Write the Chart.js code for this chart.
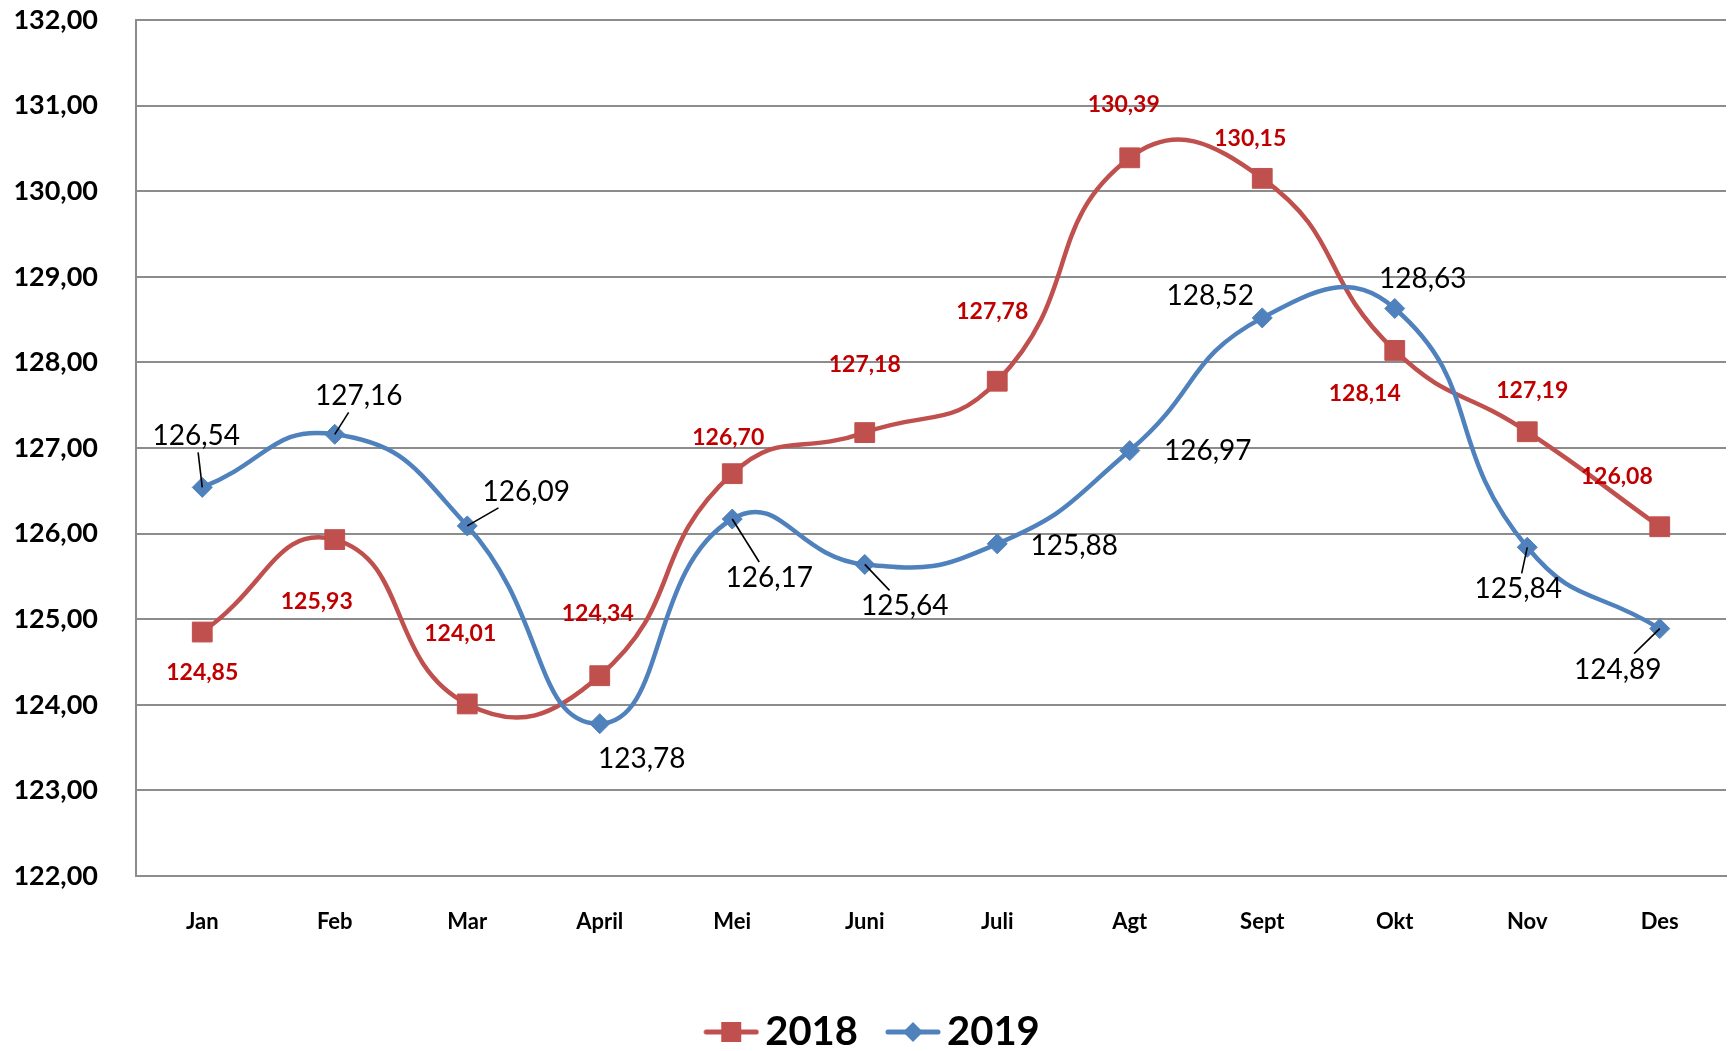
<!DOCTYPE html>
<html>
<head>
<meta charset="utf-8">
<script src="https://cdn.jsdelivr.net/npm/chart.js@4.4.0/dist/chart.umd.min.js"></script>
<style>
  html, body { margin: 0; padding: 0; background: #fff; overflow: hidden; }
  #wrap { width: 1729px; height: 1051px; position: relative; }
</style>
</head>
<body>
<div id="wrap"><canvas id="lineChart"></canvas></div>
<script>
const months = ["Jan", "Feb", "Mar", "April", "Mei", "Juni", "Juli", "Agt", "Sept", "Okt", "Nov", "Des"];
const values2018 = [124.85, 125.93, 124.01, 124.34, 126.70, 127.18, 127.78, 130.39, 130.15, 128.14, 127.19, 126.08];
const values2019 = [126.54, 127.16, 126.09, 123.78, 126.17, 125.64, 125.88, 126.97, 128.52, 128.63, 125.84, 124.89];
const seriesNames = ["2018", "2019"];
const yMin = 122, yMax = 132, yStep = 1;

// where each value label sits, relative to its point (px)
const labelOffset2018 = [[0, 41], [-18, 62], [-7, -70], [-2, -62], [-4, -36], [0, -68], [-5, -70], [-6, -53], [-12, -40], [-30, 43], [5, -41], [-43, -50]];
const labelOffset2019 = [[-6, -51], [24, -38], [59, -34], [42, 35], [37, 59], [40, 42], [77, 2], [78, 0], [-52, -22], [28, -30], [-9, 42], [-42, 41]];
const leader2019 = [true, true, true, false, true, true, false, false, false, false, true, true];

const RED = "#C0504D";
const BLUE = "#4F81BD";
const FONT = "Lato, 'Open Sans', sans-serif";

function fmt(v) {
  return v.toFixed(2).replace(".", ",");
}

// legend icon: line with the marker in the middle
function legendIcon(color, style) {
  const c = document.createElement("canvas");
  c.width = 87; c.height = 24;
  const g = c.getContext("2d");
  g.strokeStyle = color;
  g.lineWidth = 5;
  g.lineCap = "round";
  g.beginPath();
  g.moveTo(34, 12);
  g.lineTo(84, 12);
  g.stroke();
  g.fillStyle = color;
  const cx = 59;
  if (style === "rect") {
    g.fillRect(cx - 10, 2, 20, 20);
  } else {
    g.beginPath();
    g.moveTo(cx - 10, 12); g.lineTo(cx, 2); g.lineTo(cx + 10, 12); g.lineTo(cx, 22);
    g.closePath();
    g.fill();
  }
  return c;
}
const legendIcons = [legendIcon(RED, "rect"), legendIcon(BLUE, "diamond")];

const pointLabels = {
  id: "pointLabels",
  afterDatasetsDraw(chart) {
    const ctx = chart.ctx;
    chart.data.datasets.forEach((ds, i) => {
      const meta = chart.getDatasetMeta(i);
      const lab = ds.pointLabel;
      ctx.save();
      ctx.font = lab.font;
      ctx.textAlign = "center";
      ctx.textBaseline = "middle";
      meta.data.forEach((pt, j) => {
        const text = fmt(ds.data[j]);
        const lx = pt.x + lab.offsets[j][0];
        const ly = pt.y + lab.offsets[j][1];
        if (lab.leaders && lab.leaders[j]) {
          const w = ctx.measureText(text).width / 2 + 2;
          const h = lab.height / 2 + 2;
          const dx = pt.x - lx, dy = pt.y - ly;
          const s = Math.min(dx ? w / Math.abs(dx) : Infinity, dy ? h / Math.abs(dy) : Infinity);
          ctx.strokeStyle = "#000";
          ctx.lineWidth = 1.6;
          ctx.beginPath();
          ctx.moveTo(pt.x, pt.y);
          ctx.lineTo(lx + dx * s, ly + dy * s);
          ctx.stroke();
        }
        ctx.fillStyle = lab.color;
        ctx.fillText(text, lx, ly);
      });
      ctx.restore();
    });
  }
};

const ctxLine = document.getElementById("lineChart").getContext("2d");

const configLine = {
  type: "line",
  data: {
    labels: months,
    datasets: [
      {
        label: seriesNames[0],
        data: values2018,
        borderColor: RED,
        backgroundColor: RED,
        borderWidth: 4.5,
        tension: 0.5,
        pointStyle: "rect",
        pointRadius: 14,
        pointBorderWidth: 1,
        order: 1,
        pointLabel: { offsets: labelOffset2018, font: "bold 23px " + FONT, color: "#C00000", height: 23 }
      },
      {
        label: seriesNames[1],
        data: values2019,
        borderColor: BLUE,
        backgroundColor: BLUE,
        borderWidth: 4.5,
        tension: 0.5,
        pointStyle: "rectRot",
        pointRadius: 10,
        pointBorderWidth: 1,
        order: 0,
        pointLabel: { offsets: labelOffset2019, leaders: leader2019, font: "28px " + FONT, color: "#000", height: 28 }
      }
    ]
  },
  options: {
    responsive: true,
    maintainAspectRatio: false,
    animation: false,
    layout: { autoPadding: false, padding: { left: 0, right: 3, top: 20, bottom: -11 } },
    scales: {
      x: {
        offset: true,
        grid: { display: false },
        border: { display: true, color: "#8C8C8C", width: 2 },
        ticks: {
          padding: 25,
          color: "#000",
          font: { family: FONT, size: 22, weight: "bold" }
        },
        afterFit(scale) {
          scale.height = 126;
          scale.paddingLeft = 0;
          scale.paddingRight = 0;
        }
      },
      y: {
        min: yMin,
        max: yMax,
        grid: { color: "#8C8C8C", lineWidth: 2, drawTicks: false },
        border: { display: true, color: "#8C8C8C", width: 2 },
        ticks: {
          stepSize: yStep,
          padding: 38,
          color: "#000",
          font: { family: FONT, size: 27, weight: "bold" },
          callback: (v) => fmt(v)
        },
        afterFit(scale) {
          scale.width = 136;
          scale.paddingTop = 0;
          scale.paddingBottom = 0;
        }
      }
    },
    plugins: {
      tooltip: { enabled: false },
      legend: {
        position: "bottom",
        labels: {
          usePointStyle: true,
          pointStyleWidth: 59,
          padding: 10,
          color: "#000",
          font: { family: FONT, size: 40, weight: "bold" },
          sort: (a, b) => a.datasetIndex - b.datasetIndex,
          generateLabels(chart) {
            const items = Chart.defaults.plugins.legend.labels.generateLabels(chart);
            items.forEach((it) => { it.pointStyle = legendIcons[it.datasetIndex]; });
            return items;
          }
        }
      }
    }
  },
  plugins: [pointLabels]
};

const lineChart = new Chart(ctxLine, configLine);
</script>
</body>
</html>
